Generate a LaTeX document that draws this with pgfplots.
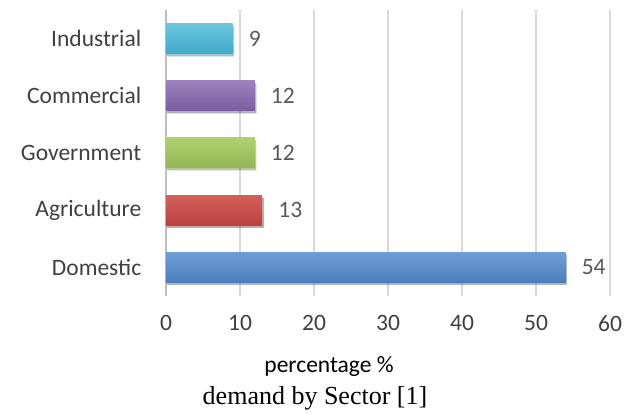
\documentclass[border=0pt]{standalone}
\usepackage{pgfplots}
\pgfplotsset{compat=1.18}
\usepackage{fontspec}
\setmainfont{Carlito}
\newfontfamily\timesfont{Liberation Serif}
\usetikzlibrary{shadows}

\definecolor{gridgray}{HTML}{D9D9D9}
\definecolor{axgray}{HTML}{BFBFBF}
\definecolor{txt}{HTML}{404040}
\definecolor{lbl}{HTML}{595959}
% bar gradients, top / bottom
\definecolor{blueT}{HTML}{709DD6}
\definecolor{blueB}{HTML}{4A7EBB}
\definecolor{redT}{HTML}{D4605C}
\definecolor{redB}{HTML}{B8423F}
\definecolor{greenT}{HTML}{AED070}
\definecolor{greenB}{HTML}{93B653}
\definecolor{purpleT}{HTML}{9C83BE}
\definecolor{purpleB}{HTML}{7A5C9F}
\definecolor{cyanT}{HTML}{6CC6DE}
\definecolor{cyanB}{HTML}{3EAAC8}

\newcommand{\lab}{\fontsize{23.5}{28}\selectfont}

\begin{document}
\begin{tikzpicture}[x=1pt,y=1pt]
\path[use as bounding box] (-166,-118) rectangle (468,296);
\begin{axis}[
  at={(0,0)}, anchor=south west,
  scale only axis, width=444pt, height=286pt,
  xbar, bar width=30pt,
  every axis plot/.append style={bar shift=0pt, draw=none,
    drop shadow={shadow xshift=1.5pt, shadow yshift=-2.5pt, fill=black, opacity=0.22}},
  xmin=0, xmax=60, ymin=-0.5, ymax=4.5,
  xtick={0,10,...,60},
  ytick={0,...,4},
  yticklabels={Domestic,Agriculture,Government,Commercial,Industrial},
  extra y ticks={-0.5,0.5,1.5,2.5,3.5,4.5},
  extra y tick labels={},
  extra y tick style={major tick length=6pt, tick align=outside,
    major tick style={draw=axgray, line width=1.2pt}, ymajorgrids=false},
  axis lines*=left,
  x axis line style={draw=none},
  y axis line style={draw=axgray, line width=1.4pt},
  xmajorgrids, grid style={draw=gridgray, line width=1.2pt},
  xtick style={draw=none}, ytick style={draw=none},
  /pgf/number format/assume math mode=true,
  ticklabel style={font=\lab, text=txt},
  xticklabel style={yshift=-16pt},
  yticklabel style={xshift=-17pt},
  nodes near coords,
  nodes near coords style={font=\lab, text=lbl, anchor=west, inner sep=0pt, xshift=16pt},
  clip=false,
]
\addplot[top color=blueT, bottom color=blueB] coordinates {(54,0)};
\addplot[top color=redT, bottom color=redB] coordinates {(13,1)};
\addplot[top color=greenT, bottom color=greenB] coordinates {(12,2)};
\addplot[top color=purpleT, bottom color=purpleB] coordinates {(12,3)};
\addplot[top color=cyanT, bottom color=cyanB] coordinates {(9,4)};
\end{axis}
\node[font=\lab, text=black] at (163,-71) {percentage \%};
\node[font=\timesfont\fontsize{26}{30}\selectfont, text=black] at (149,-102) {demand by Sector [1]};
\end{tikzpicture}
\end{document}
